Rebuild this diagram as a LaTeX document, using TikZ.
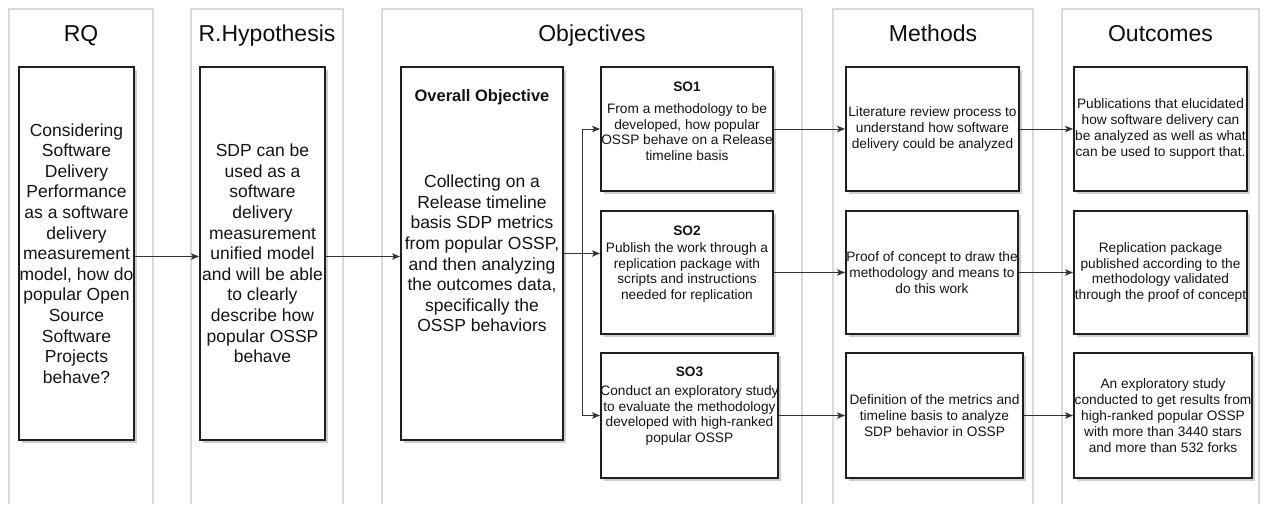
\documentclass[tikz,border=0pt]{standalone}
\usepackage{fontspec}
\setmainfont{Liberation Sans}
\usetikzlibrary{arrows.meta,shadows,calc}

\begin{document}
\begin{tikzpicture}[x=1pt,y=-1pt,
  lane/.style={draw=black!15, line width=1.5pt},
  head/.style={font=\fontsize{23}{27}\selectfont, text=black!95, inner sep=0pt, anchor=base},
  card/.style={draw=black!88, line width=2pt, fill=white, inner sep=0pt, outer sep=1pt,
    drop shadow={shadow xshift=2.5pt, shadow yshift=-2.5pt, fill=black!35, opacity=0.55}},
  bigtxt/.style={font=\fontsize{17.5}{20.6}\selectfont, align=center, text=black!92},
  smalltxt/.style={font=\fontsize{13.7}{15.8}\selectfont, align=center, text=black!92},
  arr/.style={draw=black!80, line width=0.9pt, -{Stealth[length=8pt,width=6.5pt,inset=2pt]}}
]
\useasboundingbox (0,0) rectangle (1262,504);
\fill[white] (0,0) rectangle (1262,504);

% swimlane frames (open at the bottom)
\draw[lane] (9,504) -- (9,9) -- (153,9) -- (153,504);
\draw[lane] (191,504) -- (191,9) -- (343,9) -- (343,504);
\draw[lane] (382,504) -- (382,9) -- (802,9) -- (802,504);
\draw[lane] (833,504) -- (833,9) -- (1033,9) -- (1033,504);
\draw[lane] (1062,504) -- (1062,9) -- (1259,9) -- (1259,504);

% lane titles
\node[head] (hrq)  at (81,41)   {RQ};
\node[head] (hrh)  at (267,41)  {R.Hypothesis};
\node[head] (hobj) at (592,41)  {Objectives};
\node[head] (hmet) at (933,41)  {Methods};
\node[head] (hout) at (1160.5,41) {Outcomes};

% research question and hypothesis
\node[card, bigtxt, minimum width=115pt, minimum height=373pt] (rq) at (76.5,253.5)
  {Considering\\Software\\Delivery\\Performance\\as a software\\delivery\\measurement\\model, how do\\popular Open\\Source\\Software\\Projects\\behave?};
\node[card, bigtxt, minimum width=125pt, minimum height=373pt] (rh) at (262.5,253.5)
  {SDP can be\\used as a\\software\\delivery\\measurement\\unified model\\and will be able\\to clearly\\describe how\\popular OSSP\\behave};

% overall objective
\node[card, bigtxt, minimum width=162pt, minimum height=373pt] (ov) at (482,253.5)
  {Collecting on a\\Release timeline\\basis SDP metrics\\from popular OSSP,\\and then analyzing\\the outcomes data,\\specifically the\\OSSP behaviors};
\node[bigtxt, font=\fontsize{16.5}{20}\selectfont\bfseries] (ovt) at (482,97) {Overall Objective};

% specific objectives
\node[card, minimum width=172pt, minimum height=124pt] (so1) at (687,129) {};
\node[card, minimum width=172pt, minimum height=123pt] (so2) at (687,272.5) {};
\node[card, minimum width=177pt, minimum height=125pt] (so3) at (689.5,415.5) {};
\node[smalltxt, font=\fontsize{13.7}{15.8}\selectfont\bfseries] (so1t) at ($(so1.center)+(0,-42)$) {SO1};
\node[smalltxt, font=\fontsize{13.7}{15.8}\selectfont\bfseries] (so2t) at ($(so2.center)+(0,-42)$) {SO2};
\node[smalltxt, font=\fontsize{13.7}{15.8}\selectfont\bfseries] (so3t) at ($(so3.center)+(0,-44)$) {SO3};
\node[smalltxt] (so1b) at ($(so1.center)+(0,3)$)
  {From a methodology to be\\developed, how popular\\OSSP behave on a Release\\timeline basis};
\node[smalltxt] (so2b) at (so2.center)
  {Publish the work through a\\replication package with\\scripts and instructions\\needed for replication};
\node[smalltxt] (so3b) at (so3.center)
  {Conduct an exploratory study\\to evaluate the methodology\\developed with high-ranked\\popular OSSP};

% methods
\node[card, smalltxt, minimum width=173pt, minimum height=124pt] (m1) at (932.5,129)
  {Literature review process to\\understand how software\\delivery could be analyzed};
\node[card, smalltxt, minimum width=172pt, minimum height=123pt] (m2) at (932,272.5)
  {Proof of concept to draw the\\methodology and means to\\do this work};
\node[card, smalltxt, minimum width=177pt, minimum height=125pt] (m3) at (934.5,415.5)
  {Definition of the metrics and\\timeline basis to analyze\\SDP behavior in OSSP};

% outcomes
\node[card, smalltxt, minimum width=173pt, minimum height=124pt] (o1) at (1160.5,129)
  {Publications that elucidated\\how software delivery can\\be analyzed as well as what\\can be used to support that.};
\node[card, smalltxt, minimum width=173pt, minimum height=123pt] (o2) at (1160.5,272.5)
  {Replication package\\published according to the\\methodology validated\\through the proof of concept};
\node[card, smalltxt, minimum width=178pt, minimum height=125pt] (o3) at (1163,415.5)
  {An exploratory study\\conducted to get results from\\high-ranked popular OSSP\\with more than 3440 stars\\and more than 532 forks};

% connectors
\draw[arr] ([yshift=-3pt]rq.east) -- ([yshift=-3pt]rh.west);
\draw[arr] ([yshift=-3pt]rh.east) -- ([yshift=-3pt]ov.west);

\coordinate (split) at (582,253.5);
\draw[arr] (ov.east) -- (ov.east -| so2.west);
\draw[arr] (ov.east) -- (split) |- (so1.west);
\draw[arr] (split) |- (so3.west);

\draw[arr] (so1.east) -- (m1.west);
\draw[arr] (so2.east) -- (m2.west);
\draw[arr] (so3.east) -- (m3.west);

\draw[arr] (m1.east) -- (o1.west);
\draw[arr] (m2.east) -- (o2.west);
\draw[arr] (m3.east) -- (o3.west);
\end{tikzpicture}
\end{document}
